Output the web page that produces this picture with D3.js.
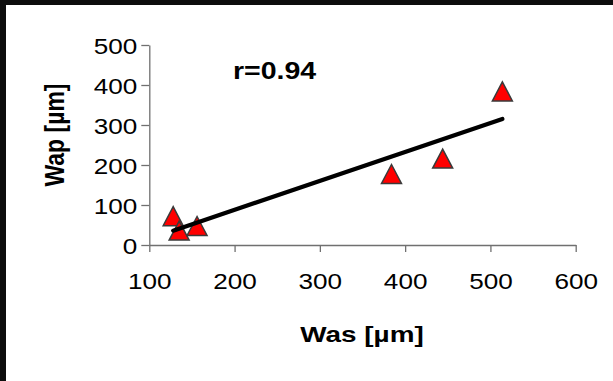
<!DOCTYPE html>
<html>
<head>
<meta charset="utf-8">
<script src="https://cdn.jsdelivr.net/npm/d3@7"></script>
<style>
  html, body { margin: 0; padding: 0; background: #fff; }
  svg { display: block; }
</style>
</head>
<body>
<script>
// Measurements: arterial wall cross-section widths
const wasValues = [128, 135, 156, 384, 444, 514];
const wapValues = [72, 36, 47.5, 177.5, 216, 384];
const xTicks = [100, 200, 300, 400, 500, 600];
const yTicks = [0, 100, 200, 300, 400, 500];
const xTitle = "Was [µm]";
const yTitle = "Wap [µm]";

const W = 613, H = 381;
const svg = d3.select("body").append("svg").attr("width", W).attr("height", H);

// dark frame along the top and left edge
svg.append("rect").attr("x", 0).attr("y", 0).attr("width", W).attr("height", H).attr("fill", "#0d0d0d");
svg.append("rect").attr("x", 6).attr("y", 5).attr("width", W - 6).attr("height", H - 5).attr("fill", "#fff");

const x = d3.scaleLinear().domain([100, 600]).range([149.3, 575.7]);
const y = d3.scaleLinear().domain([0, 500]).range([245, 45]);

const font = "'Liberation Sans', Arial, Helvetica, sans-serif";
const axisColor = "#707070";
const tickStretch = 1.16;   // labels are drawn slightly wide
const boldStretch = 1.24;

// x axis
const gx = svg.append("g").attr("transform", `translate(0,${y(0)})`)
  .call(d3.axisBottom(x).tickValues(xTicks).tickSize(7).tickPadding(21).tickSizeOuter(0));
// y axis
const gy = svg.append("g").attr("transform", `translate(${x(100)},0)`)
  .call(d3.axisLeft(y).tickValues(yTicks).tickSize(8).tickPadding(4).tickSizeOuter(0));

[gx, gy].forEach(g => {
  g.select(".domain").attr("stroke", axisColor).attr("stroke-width", 1.3);
  g.selectAll(".tick line").attr("stroke", axisColor).attr("stroke-width", 1.3);
  g.selectAll(".tick text").attr("fill", "#000")
    .style("font-family", font).style("font-size", "22.5px")
    .attr("transform", `scale(${tickStretch},1)`);
});
gy.selectAll(".tick text").attr("dy", "0.36em").attr("x", -12 / tickStretch);

// least-squares trend line over the measured range
const n = wasValues.length;
const mx = d3.mean(wasValues), my = d3.mean(wapValues);
let sxy = 0, sxx = 0, syy = 0;
for (let i = 0; i < n; i++) {
  sxy += (wasValues[i] - mx) * (wapValues[i] - my);
  sxx += (wasValues[i] - mx) ** 2;
  syy += (wapValues[i] - my) ** 2;
}
const slope = sxy / sxx, intercept = my - slope * mx;
const r = sxy / Math.sqrt(sxx * syy);
const x0 = d3.min(wasValues), x1 = d3.max(wasValues);

// triangle marker centred on its bounding box
const triangle = {
  draw(ctx, size) {
    const w = Math.sqrt(size * 2.1), h = w * 0.95;
    ctx.moveTo(0, -h / 2);
    ctx.lineTo(w / 2, h / 2);
    ctx.lineTo(-w / 2, h / 2);
    ctx.closePath();
  }
};
svg.append("g").selectAll("path").data(wasValues.map((v, i) => [v, wapValues[i]]))
  .join("path")
  .attr("d", d3.symbol().type(triangle).size(190))
  .attr("transform", d => `translate(${x(d[0])},${y(d[1])})`)
  .attr("fill", "#ff0000")
  .attr("stroke", "#3a3a3a")
  .attr("stroke-width", 1.5);

svg.append("line")
  .attr("x1", x(x0)).attr("y1", y(intercept + slope * x0))
  .attr("x2", x(x1)).attr("y2", y(intercept + slope * x1))
  .attr("stroke", "#000").attr("stroke-width", 4.2).attr("stroke-linecap", "round");

// correlation label
svg.append("text").attr("transform", `translate(233,79) scale(${boldStretch},1)`)
  .style("font-family", font).style("font-size", "23px").style("font-weight", "bold")
  .text("r=" + r.toFixed(2));

// axis titles
svg.append("text").attr("transform", `translate(362,342) scale(${boldStretch},1)`).attr("text-anchor", "middle")
  .style("font-family", font).style("font-size", "22.5px").style("font-weight", "bold")
  .text(xTitle);
svg.append("text").attr("transform", `translate(64,135) scale(${boldStretch},1) rotate(-90)`).attr("text-anchor", "middle")
  .style("font-family", font).style("font-size", "23px").style("font-weight", "bold")
  .text(yTitle);
</script>
</body>
</html>
